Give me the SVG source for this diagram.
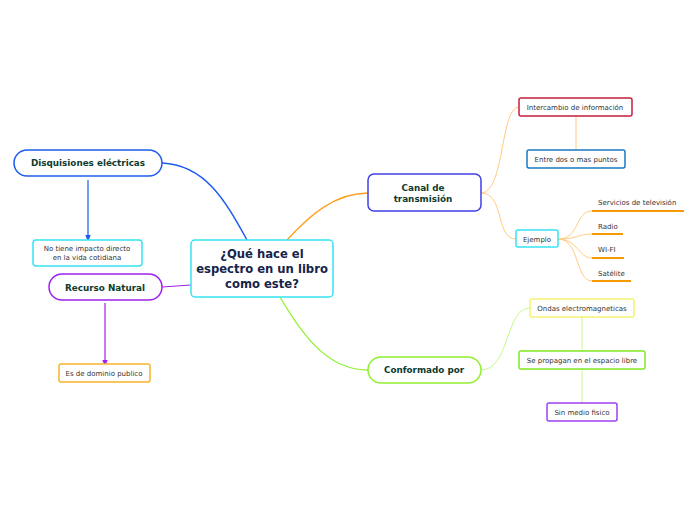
<svg xmlns="http://www.w3.org/2000/svg" width="696" height="520" viewBox="0 0 696 520">
<defs>
<style>
.n{fill:#fff;stroke-width:1.5}
.t{font-family:"DejaVu Sans",Verdana,sans-serif;font-size:7px;fill:#333;text-anchor:middle}
.b{font-family:"DejaVu Sans",Verdana,sans-serif;font-size:8.8px;font-weight:bold;fill:#0d3b2e;text-anchor:middle}
.c{font-family:"DejaVu Sans",Verdana,sans-serif;font-size:11.6px;font-weight:bold;fill:#14244a;text-anchor:middle}
.l{font-family:"DejaVu Sans",Verdana,sans-serif;font-size:7px;fill:#333}
.e{fill:none}
</style>
<marker id="ab" viewBox="0 0 10 10" refX="9" refY="5" markerWidth="6" markerHeight="6" orient="auto"><path d="M0,1 L10,5 L0,9 z" fill="#1e5cf0"/></marker>
<marker id="ap" viewBox="0 0 10 10" refX="9" refY="5" markerWidth="6" markerHeight="6" orient="auto"><path d="M0,1 L10,5 L0,9 z" fill="#a020f0"/></marker>
</defs>
<rect width="696" height="520" fill="#fff"/>
<g id="connectors">
<path class="e" d="M247,240 C225,200 205,165 162,163" stroke="#1e5cf0" stroke-width="1.5"/>
<path class="e" d="M88,180 L88,241" stroke="#1e5cf0" stroke-width="1.2" marker-end="url(#ab)"/>
<path class="e" d="M191,285 L162,287" stroke="#a020f0" stroke-width="1.2"/>
<path class="e" d="M105,303 L105,366" stroke="#a020f0" stroke-width="1.2" marker-end="url(#ap)"/>
<path class="e" d="M287,240 C310,215 335,193 368,193" stroke="#ffa020" stroke-width="1.3"/>
<path class="e" d="M280,297 C305,340 330,370 368,370" stroke="#90f030" stroke-width="1.3"/>
<path class="e" d="M481,193 C505,193 500,107 519,107" stroke="#ffcc80" stroke-width="1"/>
<path class="e" d="M481,193 C505,193 495,239 516,239" stroke="#ffcc80" stroke-width="1"/>
<path class="e" d="M576,116 L576,150" stroke="#ffcc80" stroke-width="1"/>
<path class="e" d="M558,239 C580,239 575,211 592,211" stroke="#ffcc80" stroke-width="1"/>
<path class="e" d="M558,239 C578,239 578,234 592,234" stroke="#ffcc80" stroke-width="1"/>
<path class="e" d="M558,239 C578,239 578,258 592,258" stroke="#ffcc80" stroke-width="1"/>
<path class="e" d="M558,239 C580,239 575,281 592,281" stroke="#ffcc80" stroke-width="1"/>
<path class="e" d="M481,370 C510,370 505,308 530,308" stroke="#c8f890" stroke-width="1"/>
<path class="e" d="M582,317 L582,351 M582,369 L582,403" stroke="#c8f890" stroke-width="1"/>
</g>
<g id="central">
<rect class="n" x="191" y="240" width="142" height="57" rx="4" stroke="#33e4f4"/>
<text class="c" x="262" y="258">¿Qué hace el</text>
<text class="c" x="262" y="273">espectro en un libro</text>
<text class="c" x="262" y="288">como este?</text>
</g>
<g id="disquisiones">
<rect class="n" x="14" y="150" width="148" height="26" rx="13" stroke="#1e5cf0"/>
<text class="b" x="88" y="166">Disquisiones eléctricas</text>
</g>
<g id="impacto">
<rect class="n" x="33" y="240" width="109" height="26" rx="3" stroke="#33e4f4"/>
<text class="t" x="87" y="251">No tiene impacto directo</text>
<text class="t" x="87" y="260">en la vida cotidiana</text>
</g>
<g id="recurso">
<rect class="n" x="49" y="274" width="113" height="26" rx="13" stroke="#a020f0"/>
<text class="b" x="105" y="291">Recurso Natural</text>
</g>
<g id="dominio">
<rect class="n" x="59" y="364" width="91" height="18" rx="2" stroke="#f8b428"/>
<text class="t" x="104" y="376">Es de dominio publico</text>
</g>
<g id="canal">
<rect class="n" x="368" y="174" width="113" height="37" rx="6" stroke="#4040e8"/>
<text class="b" x="423" y="191">Canal de</text>
<text class="b" x="423" y="202">transmisión</text>
</g>
<g id="intercambio">
<rect class="n" x="519" y="98" width="113" height="18" rx="2" stroke="#c81e40"/>
<text class="t" x="575" y="110">Intercambio de información</text>
</g>
<g id="entre">
<rect class="n" x="527" y="150" width="98" height="18" rx="2" stroke="#1a78c0"/>
<text class="t" x="576" y="162">Entre dos o mas puntos</text>
</g>
<g id="ejemplo">
<rect class="n" x="516" y="230" width="42" height="17" rx="2" stroke="#33e4f4"/>
<text class="t" x="537" y="242">Ejemplo</text>
</g>
<g id="servicios">
<text class="l" x="598" y="205">Servicios de televisión</text>
<path d="M592,211 L684,211" stroke="#f59a00" stroke-width="2"/>
</g>
<g id="radio">
<text class="l" x="598" y="229">Radio</text>
<path d="M592,234 L623,234" stroke="#f59a00" stroke-width="2"/>
</g>
<g id="wifi">
<text class="l" x="598" y="252">WI-FI</text>
<path d="M592,258 L624,258" stroke="#f59a00" stroke-width="2"/>
</g>
<g id="satelite">
<text class="l" x="598" y="276">Satélite</text>
<path d="M592,281 L631,281" stroke="#f59a00" stroke-width="2"/>
</g>
<g id="conformado">
<rect class="n" x="368" y="357" width="113" height="26" rx="13" stroke="#90f030"/>
<text class="b" x="424" y="373">Conformado por</text>
</g>
<g id="ondas">
<rect class="n" x="530" y="299" width="104" height="18" rx="2" stroke="#f4f470"/>
<text class="t" x="582" y="311">Ondas electromagneticas</text>
</g>
<g id="propagan">
<rect class="n" x="519" y="351" width="126" height="18" rx="2" stroke="#80e820"/>
<text class="t" x="582" y="363">Se propagan en el espacio libre</text>
</g>
<g id="sinmedio">
<rect class="n" x="547" y="403" width="70" height="18" rx="2" stroke="#a040f0"/>
<text class="t" x="582" y="415">Sin medio fisico</text>
</g>
</svg>
